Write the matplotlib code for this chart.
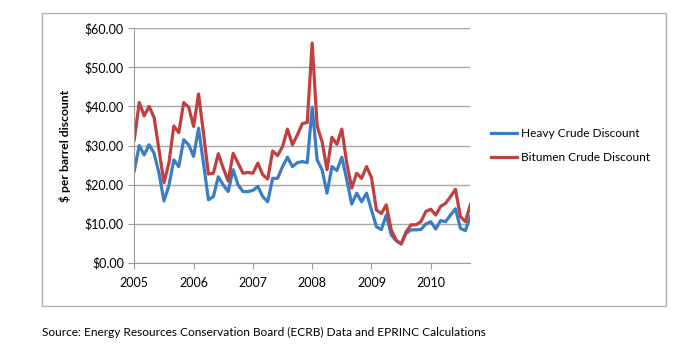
import matplotlib.pyplot as plt
from matplotlib.patches import Rectangle

plt.rcParams['font.family'] = ['Lato', 'DejaVu Sans']

# monthly, Jan 2005 .. Sep 2010
heavy = [23.5, 30.0, 27.6, 30.2, 28.0, 22.9, 15.8, 19.7, 26.3, 24.6, 31.5, 30.2,
         27.2, 34.4, 25.5, 16.1, 16.9, 22.0, 19.9, 18.2, 23.8, 19.9, 18.2, 18.2,
         18.5, 19.5, 16.9, 15.6, 21.6, 21.6, 24.6, 27.0, 24.6, 25.6, 25.9, 25.6,
         39.8, 26.3, 23.8, 17.8, 24.6, 23.6, 27.0, 21.2, 15.0, 17.8, 15.6, 17.8,
         13.5, 9.2, 8.5, 12.2, 7.1, 5.6, 4.8, 7.5, 8.4, 8.4, 8.5, 9.9,
         10.5, 8.6, 10.8, 10.5, 12.2, 13.8, 8.8, 8.2, 11.8]
bitumen = [31.5, 41.0, 37.6, 40.0, 37.2, 28.9, 20.5, 25.5, 35.0, 33.3, 41.0, 39.8,
           34.9, 43.2, 33.2, 22.7, 22.9, 27.9, 24.2, 20.9, 28.0, 25.5, 22.9, 23.1,
           22.9, 25.5, 22.5, 21.4, 28.6, 27.4, 29.7, 34.2, 30.2, 32.7, 35.6, 35.9,
           56.2, 35.0, 31.0, 23.8, 32.1, 30.3, 34.2, 25.5, 19.1, 22.9, 21.6, 24.6,
           21.8, 13.5, 12.6, 14.8, 8.4, 5.8, 4.8, 7.9, 9.7, 9.7, 10.5, 13.1,
           13.7, 12.2, 14.4, 15.2, 16.9, 18.8, 11.8, 10.5, 14.8]
years = ['2005', '2006', '2007', '2008', '2009', '2010']
yticks = [0, 10, 20, 30, 40, 50, 60]

months = list(range(len(heavy)))

fig = plt.figure(figsize=(6.95, 3.46), dpi=100)
fig.patches.append(Rectangle((42 / 695, 1 - 306 / 346), 624 / 695, 293 / 346,
                             transform=fig.transFigure, fill=False,
                             edgecolor='#b0b0b0', linewidth=1))

ax = fig.add_axes([134.3 / 695, 1 - 262.7 / 346, 336 / 695, 234.4 / 346])
ax.plot(months, heavy, color='#3b7dc4', lw=2.3, label='Heavy Crude Discount')
ax.plot(months, bitumen, color='#c0403f', lw=2.3, label='Bitumen Crude Discount')

ax.set_xlim(0, len(heavy) - 1)
ax.set_ylim(0, 60)
ax.set_yticks(yticks)
ax.set_yticklabels(['$%.2f' % v for v in yticks])
ax.set_xticks(range(0, 12 * len(years), 12))
ax.set_xticklabels(years)
ax.grid(axis='y', color='#a6a6a6', lw=1)
ax.set_axisbelow(True)
for s in ['top', 'right']:
    ax.spines[s].set_visible(False)
for s in ['left', 'bottom']:
    ax.spines[s].set_color('#999999')
ax.tick_params(axis='both', colors='#999999', labelcolor='black', labelsize=9,
               length=4)
ax.tick_params(axis='x', pad=6)
ax.set_ylabel('$ per barrel discount', fontsize=8.7, fontweight='bold', labelpad=10)

ax.legend(loc='center left', bbox_to_anchor=(1.03, 0.5), frameon=False,
          fontsize=8.6, handlelength=2.2, handletextpad=0.3, labelspacing=1.1)

fig.text(42 / 695, 1 - 332 / 346, 'Source: Energy Resources Conservation Board (ECRB) Data and EPRINC Calculations',
         fontsize=8.6, va='center', ha='left')

fig.savefig('out.png', dpi=100)
